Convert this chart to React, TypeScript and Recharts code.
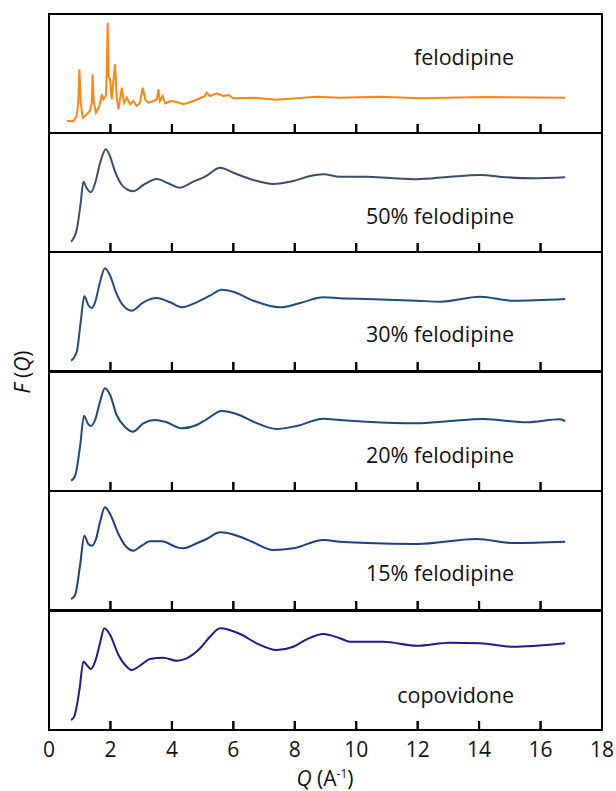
import React from 'react';
import { LineChart, Line, XAxis, YAxis, ReferenceArea } from 'recharts';

// ---- data (F(Q) in arbitrary offset units) ----
const qTicks = [0, 2, 4, 6, 8, 10, 12, 14, 16, 18];
const innerTicks = [2, 4, 6, 8, 10, 12, 14, 16];

const felodipineQ = [0.58, 0.79, 0.9, 0.95, 0.99, 1.03, 1.1, 1.23, 1.33, 1.39, 1.42, 1.46, 1.53, 1.64, 1.72, 1.77, 1.85, 1.88, 1.91, 1.94, 1.99, 2.04, 2.09, 2.15, 2.2, 2.26, 2.37, 2.44, 2.53, 2.64, 2.74, 2.85, 2.96, 3.05, 3.13, 3.23, 3.4, 3.51, 3.56, 3.61, 3.7, 3.78, 3.94, 4.16, 4.37, 4.7, 5.08, 5.13, 5.24, 5.46, 5.67, 5.84, 6.0, 6.65, 7.41, 8.06, 8.71, 9.47, 10.77, 12.08, 14.25, 16.8];
const felodipineF = [1.2, 1.17, 1.7, 3.03, 6.37, 3.03, 1.53, 1.87, 2.2, 3.03, 5.87, 3.03, 2.03, 2.7, 3.87, 3.37, 3.7, 6.03, 11.03, 5.7, 5.37, 3.37, 5.03, 6.87, 3.7, 2.37, 4.53, 3.03, 3.53, 2.87, 3.2, 2.7, 3.03, 4.53, 3.37, 3.03, 3.2, 3.37, 4.37, 3.2, 3.7, 2.97, 3.2, 3.1, 2.87, 3.2, 3.7, 4.03, 3.7, 3.97, 3.7, 3.8, 3.47, 3.53, 3.33, 3.47, 3.63, 3.53, 3.63, 3.47, 3.6, 3.53];

const fel50Q = [0.72, 0.9, 1.03, 1.12, 1.23, 1.36, 1.5, 1.66, 1.85, 1.99, 2.15, 2.37, 2.58, 2.74, 3.07, 3.51, 3.88, 4.26, 4.7, 5.08, 5.57, 6.0, 6.65, 7.3, 7.95, 8.5, 8.93, 9.47, 10.34, 11.1, 11.97, 13.05, 14.03, 14.9, 15.76, 16.8];
const fel50F = [1.03, 2.2, 4.87, 7.03, 6.37, 5.97, 6.87, 8.87, 10.27, 9.53, 8.03, 6.7, 6.2, 6.07, 6.7, 7.3, 6.87, 6.43, 7.03, 7.53, 8.43, 7.93, 7.2, 6.8, 7.1, 7.6, 7.77, 7.53, 7.53, 7.4, 7.27, 7.53, 7.7, 7.47, 7.37, 7.47];

const fel30Q = [0.72, 0.9, 1.03, 1.15, 1.28, 1.39, 1.5, 1.66, 1.82, 1.99, 2.18, 2.42, 2.69, 3.07, 3.51, 3.94, 4.32, 4.81, 5.24, 5.62, 6.0, 6.65, 7.52, 8.17, 8.93, 9.47, 10.34, 11.97, 12.73, 14.03, 15.11, 16.8];
const fel30F = [1.03, 1.87, 4.87, 7.47, 6.6, 6.3, 6.87, 8.87, 10.27, 9.53, 7.87, 6.53, 6.03, 6.87, 7.3, 6.87, 6.37, 6.87, 7.53, 8.13, 7.93, 7.03, 6.37, 6.8, 7.37, 7.27, 7.2, 7.03, 6.93, 7.43, 7.03, 7.2];

const fel20Q = [0.72, 0.85, 1.01, 1.14, 1.26, 1.36, 1.5, 1.66, 1.82, 1.99, 2.2, 2.47, 2.74, 3.07, 3.45, 3.83, 4.32, 4.81, 5.13, 5.62, 6.11, 6.65, 7.41, 8.06, 8.93, 9.47, 10.34, 11.97, 13.05, 14.14, 15.55, 16.63, 16.8];
const fel20F = [1.03, 1.5, 4.43, 7.53, 6.77, 6.5, 7.1, 8.93, 10.27, 9.6, 7.6, 6.43, 5.93, 6.77, 7.1, 6.87, 6.27, 6.6, 7.17, 8.0, 7.7, 6.93, 6.2, 6.5, 7.23, 7.1, 6.93, 6.77, 7.0, 7.2, 6.87, 7.17, 7.0];

const fel15Q = [0.72, 0.85, 1.01, 1.15, 1.28, 1.39, 1.53, 1.66, 1.82, 1.99, 2.26, 2.53, 2.74, 3.02, 3.29, 3.67, 4.16, 4.37, 4.81, 5.13, 5.57, 6.22, 6.65, 7.3, 7.95, 8.93, 9.47, 10.34, 11.97, 13.92, 15.11, 16.8];
const fel15F = [1.1, 1.5, 4.43, 7.43, 6.6, 6.43, 7.1, 8.77, 10.27, 9.6, 7.6, 6.27, 5.93, 6.43, 6.87, 6.87, 6.27, 6.17, 6.67, 7.1, 7.77, 7.33, 6.77, 6.0, 6.17, 7.0, 6.83, 6.7, 6.6, 7.1, 6.7, 6.83];

const copoQ = [0.72, 0.82, 0.99, 1.12, 1.23, 1.36, 1.5, 1.66, 1.8, 1.99, 2.26, 2.53, 2.69, 2.96, 3.29, 3.72, 4.16, 4.48, 4.92, 5.24, 5.57, 6.22, 6.76, 7.41, 7.95, 8.39, 8.93, 9.47, 9.8, 10.88, 11.97, 13.05, 14.03, 15.11, 15.76, 16.8];
const copoF = [1.0, 1.33, 4.0, 6.83, 6.5, 6.1, 6.83, 8.67, 10.17, 9.5, 7.5, 6.33, 6.0, 6.43, 7.1, 7.23, 6.93, 7.17, 8.17, 9.33, 10.17, 9.6, 8.67, 8.0, 8.33, 9.07, 9.6, 9.17, 8.83, 8.83, 8.43, 8.73, 8.67, 8.33, 8.4, 8.67];

const panelLabels = ['felodipine', '50% felodipine', '30% felodipine', '20% felodipine', '15% felodipine', 'copovidone'];

const series = [
  { q: felodipineQ, f: felodipineF, color: '#ff8514', curve: 'linear' },
  { q: fel50Q, f: fel50F, color: '#3b4d6e', curve: 'monotone' },
  { q: fel30Q, f: fel30F, color: '#1f4d7e', curve: 'monotone' },
  { q: fel20Q, f: fel20F, color: '#1f4a7c', curve: 'monotone' },
  { q: fel15Q, f: fel15F, color: '#1c3f86', curve: 'monotone' },
  { q: copoQ, f: copoF, color: '#26188f', curve: 'monotone' },
];

// ---- layout ----
const W = 616;
const panelTops = [14, 133, 252, 372, 491, 611];
const PANEL_H = 119;
const LEFT = 49;
const RIGHT = 14;
const Y_MAX = 11.9;
const Q_MAX = 18;
const TICK_PX = 9;
const FONT = '"Open Sans", "Liberation Sans", sans-serif';
const labelCenters = [57, 216, 334, 455, 573, 695];

function TickMark(props: any) {
  const { x, y } = props;
  return <line x1={x} x2={x} y1={y} y2={y - TICK_PX} stroke="#000" strokeWidth={2} />;
}

function TickWithLabel(props: any) {
  const { x, y, payload } = props;
  return (
    <g>
      <line x1={x} x2={x} y1={y} y2={y - TICK_PX} stroke="#000" strokeWidth={2} />
      <text x={x} y={y + 27} textAnchor="middle" fontSize={21} fontFamily={FONT} fill="#111">
        {payload.value}
      </text>
    </g>
  );
}

// inner tick marks drawn relative to the plot frame that the library computed
function FrameTicks(props: any) {
  const { x, y, width, height } = props;
  if (![x, y, width, height].every((v) => typeof v === 'number' && isFinite(v))) return <g />;
  const bottom = y + height;
  return (
    <g>
      {innerTicks.map((t) => {
        const tx = x + (width * t) / Q_MAX;
        return <line key={t} x1={tx} x2={tx} y1={bottom} y2={bottom - TICK_PX} stroke="#000" strokeWidth={2} />;
      })}
    </g>
  );
}

function Panel({ idx }: { idx: number }) {
  const s = series[idx];
  const last = idx === series.length - 1;
  const rows = s.q.map((q, i) => ({ q, f: s.f[i] }));
  const axisH = last ? 60 : 2;
  return (
    <div style={{ position: 'absolute', left: 0, top: panelTops[idx] - 2, zIndex: 10 - idx }}>
      <LineChart
        width={W}
        height={PANEL_H + 2 + axisH}
        data={rows}
        margin={{ top: 2, right: RIGHT, bottom: 0, left: LEFT }}
      >
        <XAxis
          dataKey="q"
          type="number"
          domain={[0, Q_MAX]}
          ticks={qTicks}
          interval={0}
          height={axisH}
          axisLine={false}
          tickLine={false}
          tickSize={0}
          tickMargin={0}
          tick={last ? <TickWithLabel /> : <TickMark />}
        />
        <YAxis type="number" domain={[0, Y_MAX]} hide />
        <Line
          type={s.curve as any}
          dataKey="f"
          stroke={s.color}
          strokeWidth={2}
          dot={false}
          isAnimationActive={false}
        />
        <ReferenceArea x1={0} x2={Q_MAX} y1={0} y2={Y_MAX} fill="none" stroke="#000" strokeWidth={2} />
        <ReferenceArea
          x1={0}
          x2={Q_MAX}
          y1={0}
          y2={Y_MAX}
          fill="none"
          stroke="none"
          shape={(p: any) => <FrameTicks {...p} />}
        />
      </LineChart>
    </div>
  );
}

export default function App() {
  return (
    <div style={{ position: 'absolute', left: 0, top: 0, width: 616, height: 791, fontFamily: FONT }}>
      {series.map((_, i) => (
        <Panel key={i} idx={i} />
      ))}
      {panelLabels.map((t, i) => (
        <div
          key={t}
          style={{
            position: 'absolute',
            right: W - 514,
            top: labelCenters[i] - 15,
            height: 30,
            lineHeight: '30px',
            fontSize: 21.5,
            color: '#111',
            whiteSpace: 'nowrap',
            zIndex: 20,
          }}
        >
          {t}
        </div>
      ))}
      <div
        style={{
          position: 'absolute',
          left: 22 - 60,
          top: 372 - 15,
          width: 120,
          height: 30,
          lineHeight: '30px',
          textAlign: 'center',
          fontSize: 21,
          color: '#111',
          transform: 'rotate(-90deg)',
          whiteSpace: 'nowrap',
        }}
      >
        <i>F</i> (<i>Q</i>)
      </div>
      <div
        style={{
          position: 'absolute',
          left: 325 - 80,
          top: 778 - 15,
          width: 160,
          height: 30,
          lineHeight: '30px',
          textAlign: 'center',
          fontSize: 21,
          color: '#111',
          whiteSpace: 'nowrap',
        }}
      >
        <i>Q</i> (A<sup style={{ fontSize: 12, verticalAlign: 'top', lineHeight: '22px' }}>-1</sup>)
      </div>
    </div>
  );
}
